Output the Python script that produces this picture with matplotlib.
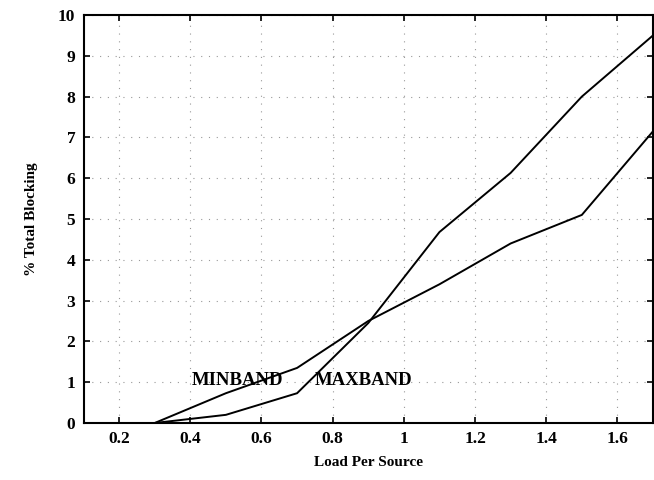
import matplotlib
matplotlib.use("Agg")
import matplotlib.pyplot as plt

# Blocking probability versus offered load per source
load = [0.3, 0.5, 0.7, 0.9, 1.1, 1.3, 1.5, 1.7]
minband = [0.0, 0.73, 1.35, 2.5, 3.4, 4.4, 5.1, 7.15]
maxband = [0.0, 0.2, 0.73, 2.45, 4.68, 6.13, 8.0, 9.5]

x_ticks = [0.2, 0.4, 0.6, 0.8, 1.0, 1.2, 1.4, 1.6]
x_tick_labels = ["0.2", "0.4", "0.6", "0.8", "1", "1.2", "1.4", "1.6"]
y_ticks = list(range(0, 11))

plt.rcParams["font.family"] = ["Liberation Serif", "DejaVu Serif"]

fig = plt.figure(figsize=(6.54, 4.80), dpi=100)
ax = fig.add_axes([0.1277, 0.11875, 0.8708, 0.85])

ax.plot(load, minband, color="black", lw=1.4, solid_joinstyle="miter")
ax.plot(load, maxband, color="black", lw=1.4, solid_joinstyle="miter")

ax.text(0.405, 1.03, "MINBAND", fontsize=13.5, fontweight="bold", va="center", ha="left")
ax.text(0.75, 1.03, "MAXBAND", fontsize=13.5, fontweight="bold", va="center", ha="left")

ax.set_xlim(0.1, 1.7)
ax.set_ylim(0, 10)
ax.set_xticks(x_ticks)
ax.set_xticklabels(x_tick_labels)
ax.set_yticks(y_ticks)

ax.grid(True, linestyle=(0, (1, 6)), color="#999999", linewidth=0.8)
ax.tick_params(direction="in", length=4, width=1.2, top=True, right=True,
               labelsize=12.5, pad=6)
for lbl in ax.get_xticklabels() + ax.get_yticklabels():
    lbl.set_fontweight("bold")
for sp in ax.spines.values():
    sp.set_linewidth(1.5)

ax.set_xlabel("Load Per Source", fontsize=11, fontweight="bold", labelpad=6)
ax.set_ylabel("% Total Blocking", fontsize=11, fontweight="bold", labelpad=14)

fig.savefig("out.png", dpi=100)
